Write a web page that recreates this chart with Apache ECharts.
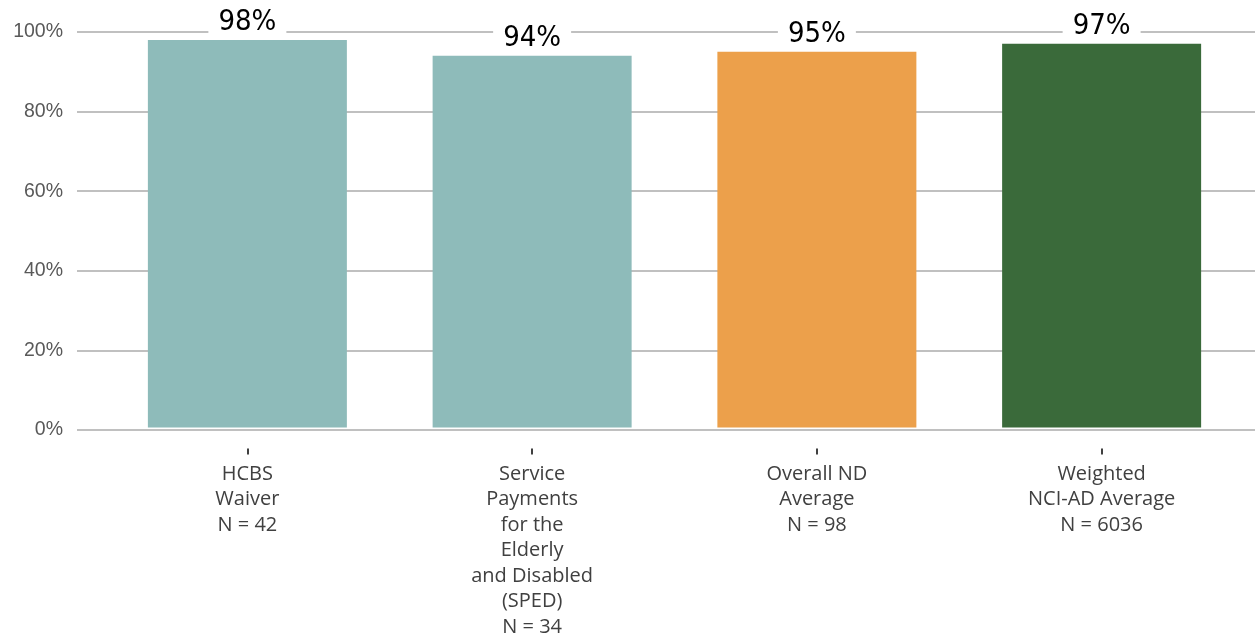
<!DOCTYPE html>
<html>
<head>
<meta charset="utf-8">
<script src="https://cdn.jsdelivr.net/npm/echarts@6/dist/echarts.min.js"></script>
<style>
html,body{margin:0;padding:0;background:#fff;}
#chart{width:1255px;height:640px;}
</style>
</head>
<body>
<div id="chart"></div>
<script>
var categories = [
  "HCBS\nWaiver\nN = 42",
  "Service\nPayments\nfor the\nElderly\nand Disabled\n(SPED)\nN = 34",
  "Overall ND\nAverage\nN = 98",
  "Weighted\nNCI-AD Average\nN = 6036"
];
var values = [98, 94, 95, 97];
var barColors = ["#8EBBBA", "#8EBBBA", "#ECA04B", "#3A6A3A"];
var yTicks = [0, 20, 40, 60, 80, 100];

var chart = echarts.init(document.getElementById('chart'));
chart.setOption({
  animation: false,
  grid: [
    {left: 77, right: 0, top: 32, bottom: 210},
    {left: 105, right: 11, top: 32, bottom: 210}
  ],
  xAxis: [
    {gridIndex: 0, type: 'value', show: false, min: 0, max: 1},
    {
      gridIndex: 1, type: 'category', data: categories,
      offset: 21,
      axisLine: {show: false, onZero: false},
      axisTick: {show: true, alignWithLabel: true, length: 6, lineStyle: {color: '#404040', width: 2}},
      axisLabel: {color: '#404040', fontSize: 20, fontFamily: 'Open Sans', lineHeight: 25.5, margin: 13, interval: 0}
    }
  ],
  yAxis: [
    {
      gridIndex: 0, type: 'value', min: yTicks[0], max: yTicks[yTicks.length - 1], interval: 20,
      axisLine: {show: false}, axisTick: {show: false},
      splitLine: {show: true, lineStyle: {color: '#C0C0C0', width: 2}},
      axisLabel: {formatter: '{value}%', color: '#595959', fontSize: 19.5, fontFamily: 'Liberation Sans', margin: 14}
    },
    {gridIndex: 1, type: 'value', min: 0, max: 100, show: false}
  ],
  series: [{
    type: 'bar',
    xAxisIndex: 1, yAxisIndex: 1,
    barWidth: 199,
    data: values.map(function (v, i) { return {value: v, itemStyle: {color: barColors[i]}}; }),
    label: {
      show: true, position: 'top', distance: 2,
      formatter: '{c}%', color: '#000', fontSize: 29,
      fontFamily: 'DejaVu Sans Condensed',
      lineHeight: 30, backgroundColor: '#fff', padding: [0, 10]
    }
  }]
});
</script>
</body>
</html>
